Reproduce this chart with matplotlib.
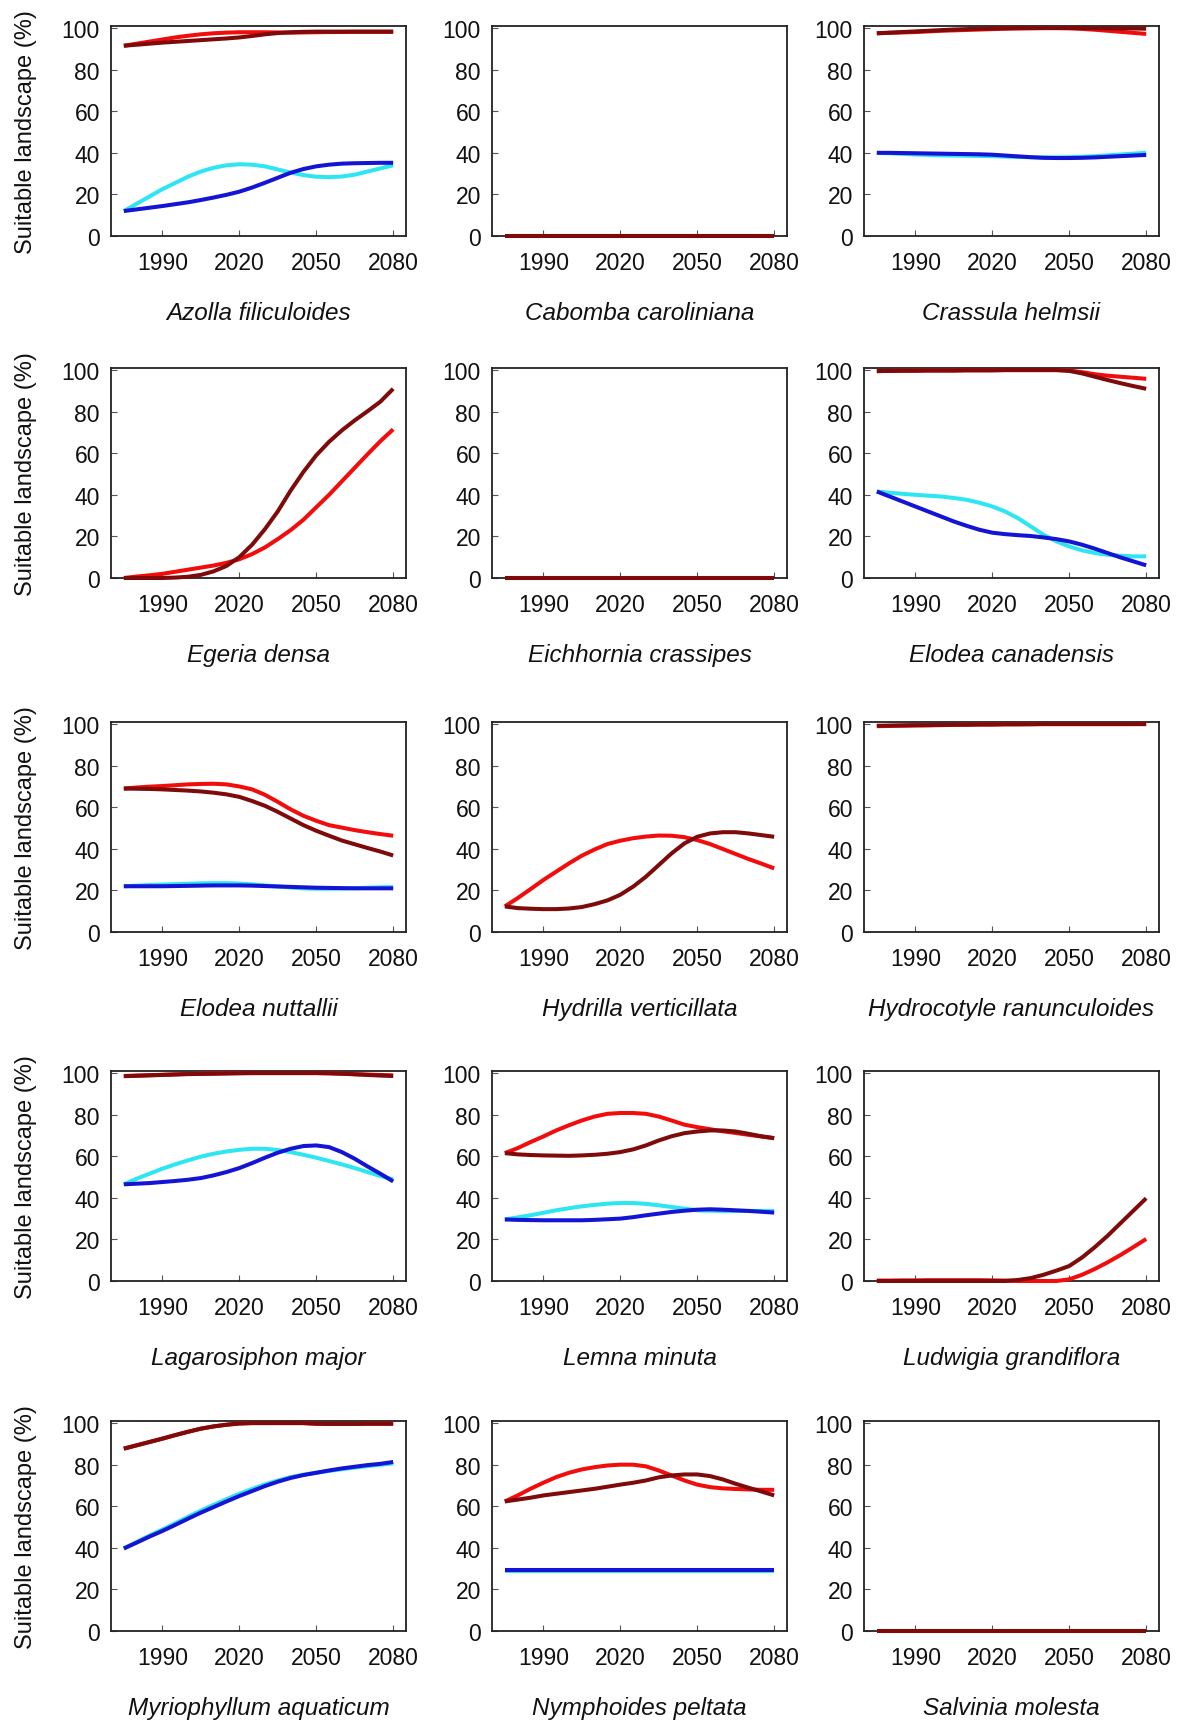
import numpy as np
import matplotlib
matplotlib.use("Agg")
import matplotlib.pyplot as plt

plt.rcParams["font.family"] = ["Liberation Sans", "DejaVu Sans"]

YEARS = [1975, 1980, 1985, 1990, 1995, 2000, 2005, 2010, 2015, 2020, 2025,
         2030, 2035, 2040, 2045, 2050, 2055, 2060, 2065, 2070, 2075, 2080]
XTICKS = [1990, 2020, 2050, 2080]
YTICKS = [0, 20, 40, 60, 80, 100]
ZERO = [0] * 22

# series per species: red, dark red, cyan, blue (None = not drawn)
azolla_red = [91.5, 92.5, 93.5, 94.5, 95.5, 96.3, 97.0, 97.5, 97.8, 98.0, 98.0,
              98.0, 97.9, 97.8, 97.9, 98.0, 98.1, 98.1, 98.2, 98.2, 98.2, 98.2]
azolla_dark = [91.5, 92.0, 92.5, 93.0, 93.4, 93.8, 94.2, 94.6, 95.0, 95.5, 96.2,
               97.0, 97.6, 98.0, 98.2, 98.3, 98.3, 98.3, 98.3, 98.3, 98.3, 98.3]
azolla_cyan = [12, 15.5, 19, 22.5, 25.5, 28.5, 31, 32.8, 34, 34.5, 34.3,
               33.5, 32, 30.5, 29.3, 28.5, 28.3, 28.6, 29.5, 31, 32.5, 34]
azolla_blue = [12, 12.8, 13.6, 14.4, 15.3, 16.2, 17.3, 18.5, 19.8, 21.3, 23.3,
               25.6, 28.0, 30.4, 32.2, 33.5, 34.3, 34.8, 35.0, 35.1, 35.2, 35.2]

crassula_red = [97.5, 97.7, 97.9, 98.1, 98.4, 98.7, 98.9, 99.1, 99.3, 99.5, 99.7,
                99.8, 99.9, 100, 100, 99.9, 99.6, 99.2, 98.7, 98.2, 97.7, 97.2]
crassula_dark = [97.5, 97.8, 98.1, 98.4, 98.7, 99.0, 99.3, 99.5, 99.7, 99.8, 99.9,
                 100, 100, 100, 100, 100, 100, 99.9, 99.9, 99.8, 99.8, 99.7]
crassula_cyan = [40, 39.8, 39.5, 39.2, 39, 38.8, 38.7, 38.6, 38.5, 38.4, 38.2,
                 38, 37.9, 37.8, 37.8, 37.9, 38.1, 38.4, 38.8, 39.2, 39.6, 40]
crassula_blue = [40, 40, 39.9, 39.8, 39.7, 39.6, 39.5, 39.4, 39.3, 39.1, 38.7,
                 38.3, 37.9, 37.6, 37.5, 37.5, 37.6, 37.8, 38.1, 38.4, 38.7, 39]

egeria_red = [0, 0.7, 1.3, 2, 3, 4, 5, 6, 7.3, 9, 11.5,
              14.7, 18.7, 23, 28, 34, 40, 46.5, 53, 59.5, 65.8, 71.5]
egeria_dark = [0, 0, 0, 0, 0.2, 0.6, 1.5, 3.2, 5.8, 10, 16,
               23.5, 32, 42, 51, 59, 65.5, 71, 75.8, 80.2, 84.8, 91]

canad_red = [99.5, 99.6, 99.7, 99.7, 99.8, 99.8, 99.8, 99.9, 99.9, 99.9, 100,
             100, 100, 100, 100, 99.8, 99, 98, 97.3, 96.8, 96.3, 95.8]
canad_dark = [99.5, 99.6, 99.7, 99.7, 99.8, 99.8, 99.8, 99.9, 99.9, 99.9, 100,
              100, 100, 100, 100, 99.6, 98.4, 96.8, 95.2, 93.7, 92.3, 91]
canad_cyan = [41.6, 41, 40.5, 40, 39.6, 39.2, 38.5, 37.6, 36.2, 34.4, 32,
              28.8, 24.8, 20.8, 17.6, 15.2, 13.3, 12, 11.2, 10.7, 10.4, 10.4]
canad_blue = [41.6, 39.2, 36.8, 34.4, 32, 29.6, 27.2, 25.1, 23.2, 21.8, 21.1,
              20.6, 20.2, 19.5, 18.7, 17.6, 16, 14.1, 12, 9.9, 8, 6.1]

nutt_red = [69, 69.5, 69.9, 70.2, 70.6, 71, 71.2, 71.3, 71.0, 70.0, 68.6,
            66, 62.6, 59, 55.9, 53.5, 51.4, 50.2, 49, 48, 47.1, 46.3]
nutt_dark = [69, 68.9, 68.8, 68.6, 68.3, 68, 67.6, 67, 66.2, 65, 63,
             60.7, 57.8, 54.6, 51.4, 48.7, 46.3, 44, 42.2, 40.4, 38.7, 36.8]
nutt_cyan = [22, 22.3, 22.6, 22.8, 23, 23.2, 23.4, 23.5, 23.5, 23.3, 22.9,
             22.4, 21.9, 21.4, 21.0, 20.8, 20.8, 20.9, 21.1, 21.3, 21.5, 21.6]
nutt_blue = [22, 22, 22, 22, 22.1, 22.2, 22.3, 22.4, 22.4, 22.4, 22.3,
             22.1, 21.9, 21.7, 21.5, 21.3, 21.2, 21.1, 21.0, 21.0, 21.0, 21.0]

hydrilla_red = [12.3, 16.3, 20.6, 25, 29, 33, 36.7, 39.7, 42.3, 43.9, 45.1,
                45.9, 46.4, 46.3, 45.6, 44.2, 42.3, 39.9, 37.5, 35.1, 32.9, 30.6]
hydrilla_dark = [12.3, 11.5, 11.2, 11, 11, 11.3, 12, 13.4, 15.2, 17.9, 21.8,
                 26.6, 32.2, 37.8, 42.6, 45.8, 47.4, 48, 48, 47.4, 46.6, 45.8]

hydrocot_red = [99.0, 99.1, 99.2, 99.3, 99.4, 99.5, 99.6, 99.7, 99.8, 99.8, 99.9,
                99.9, 100, 100, 100, 100, 100, 100, 100, 100, 100, 100]
hydrocot_dark = [99.2, 99.3, 99.4, 99.5, 99.5, 99.6, 99.7, 99.7, 99.8, 99.8, 99.9,
                 99.9, 99.9, 100, 100, 100, 100, 100, 100, 100, 100, 100]

lagaro_red = [98.6, 98.8, 99.0, 99.2, 99.4, 99.6, 99.7, 99.8, 99.9, 100, 100,
              100, 100, 100, 100, 100, 99.9, 99.7, 99.5, 99.3, 99.1, 98.9]
lagaro_dark = [98.5, 98.7, 98.9, 99.1, 99.3, 99.5, 99.6, 99.7, 99.8, 99.9, 100,
               100, 100, 100, 100, 100, 99.9, 99.7, 99.4, 99.1, 98.8, 98.6]
lagaro_cyan = [46.5, 49.2, 51.6, 54, 56.1, 58, 59.8, 61.2, 62.3, 63.1, 63.6,
               63.6, 63, 62, 60.7, 59.3, 57.7, 56.1, 54.3, 52.4, 50.5, 48.9]
lagaro_blue = [46.5, 46.8, 47.1, 47.6, 48.1, 48.7, 49.5, 50.8, 52.4, 54.3, 56.7,
               59.3, 61.7, 63.6, 64.9, 65.2, 64.4, 62, 58.8, 55.1, 51.6, 47.9]

lemna_red = [61.5, 63.9, 66.8, 69.5, 72.4, 74.9, 77.2, 79.1, 80.4, 80.8, 80.8,
             80.4, 79.1, 77.2, 75.2, 74, 73, 72, 71.2, 70.3, 69.5, 68.7]
lemna_dark = [61.5, 60.9, 60.6, 60.4, 60.3, 60.2, 60.4, 60.7, 61.2, 62, 63.3,
              65.2, 67.6, 69.6, 71.1, 71.9, 72.4, 72.4, 71.9, 70.8, 69.6, 68.7]
lemna_cyan = [29.6, 30.6, 31.6, 32.8, 34, 35, 35.9, 36.6, 37.2, 37.5, 37.5,
              37.1, 36.4, 35.6, 34.8, 34, 33.8, 33.7, 33.7, 33.7, 33.7, 33.7]
lemna_blue = [29.6, 29.4, 29.3, 29.2, 29.2, 29.2, 29.2, 29.4, 29.7, 30, 30.7,
              31.6, 32.4, 33.2, 33.8, 34.3, 34.5, 34.3, 34.0, 33.7, 33.3, 32.9]

ludw_red = [0.2, 0.2, 0.3, 0.3, 0.4, 0.4, 0.4, 0.4, 0.4, 0.3, 0.2,
            0, 0, 0, 0, 0.8, 3, 5.8, 9, 12.5, 16.3, 20.2]
ludw_dark = [0, 0, 0, 0, 0, 0, 0, 0, 0, 0, 0,
             0.5, 1.4, 3, 5, 7.2, 11.3, 16.3, 21.8, 27.8, 33.8, 39.8]

myrio_red = [87.7, 89.3, 90.9, 92.5, 94.2, 95.8, 97.3, 98.4, 99.2, 99.8, 100,
             100, 100, 100, 100, 99.7, 99.6, 99.6, 99.6, 99.7, 99.7, 99.7]
myrio_dark = [87.7, 89.3, 90.9, 92.5, 94.2, 95.8, 97.3, 98.4, 99.2, 99.8, 100,
              100, 100, 100, 100, 99.7, 99.6, 99.6, 99.6, 99.7, 99.7, 99.7]
myrio_cyan = [39.7, 42.8, 45.9, 48.8, 51.8, 54.9, 57.9, 60.7, 63.4, 66, 68.3,
              70.5, 72.4, 74, 75.2, 76.1, 77, 77.8, 78.6, 79.3, 80, 80.6]
myrio_blue = [39.7, 42.5, 45.4, 48.1, 51, 54, 56.9, 59.6, 62.3, 64.9, 67.3,
              69.7, 71.8, 73.6, 75, 76.1, 77.2, 78.2, 79, 79.8, 80.4, 81.3]

nymph_red = [62.3, 65.2, 68.4, 71.3, 74, 76.1, 77.7, 78.8, 79.6, 80, 80,
             79.2, 77.2, 74.8, 72.4, 70.4, 69.2, 68.6, 68.3, 68.1, 67.9, 67.9]
nymph_dark = [62.3, 63.2, 64.1, 65.2, 66, 66.8, 67.6, 68.4, 69.4, 70.4, 71.3,
              72.4, 73.9, 74.8, 75.3, 75.3, 74.5, 72.9, 70.8, 68.9, 67.1, 65.2]
nymph_cyan = [29.0] * 22
nymph_blue = [29.2] * 22

SPECIES = [
    ("Azolla filiculoides", azolla_red, azolla_dark, azolla_cyan, azolla_blue),
    ("Cabomba caroliniana", ZERO, ZERO, None, None),
    ("Crassula helmsii", crassula_red, crassula_dark, crassula_cyan, crassula_blue),
    ("Egeria densa", egeria_red, egeria_dark, None, None),
    ("Eichhornia crassipes", ZERO, ZERO, None, None),
    ("Elodea canadensis", canad_red, canad_dark, canad_cyan, canad_blue),
    ("Elodea nuttallii", nutt_red, nutt_dark, nutt_cyan, nutt_blue),
    ("Hydrilla verticillata", hydrilla_red, hydrilla_dark, None, None),
    ("Hydrocotyle ranunculoides", hydrocot_red, hydrocot_dark, None, None),
    ("Lagarosiphon major", lagaro_red, lagaro_dark, lagaro_cyan, lagaro_blue),
    ("Lemna minuta", lemna_red, lemna_dark, lemna_cyan, lemna_blue),
    ("Ludwigia grandiflora", ludw_red, ludw_dark, None, None),
    ("Myriophyllum aquaticum", myrio_red, myrio_dark, myrio_cyan, myrio_blue),
    ("Nymphoides peltata", nymph_red, nymph_dark, nymph_cyan, nymph_blue),
    ("Salvinia molesta", ZERO, ZERO, None, None),
]

COL = {"red": "#f20c0c", "dark": "#7e0a0a", "cyan": "#2ee6f2", "blue": "#1414d4"}

W_PX, H_PX = 1182, 1724
COL_LEFT = [111, 492, 864]
ROW_TOP = [27, 369, 723, 1072, 1422]
AX_W, AX_H = 295, 210

fig = plt.figure(figsize=(W_PX / 100, H_PX / 100), dpi=100)
for k, (name, red, dark, cyan, blue) in enumerate(SPECIES):
    r, c = divmod(k, 3)
    ax = fig.add_axes([COL_LEFT[c] / W_PX, 1 - (ROW_TOP[r] + AX_H) / H_PX,
                       AX_W / W_PX, AX_H / H_PX])
    for vals, key in ((cyan, "cyan"), (blue, "blue"), (red, "red"), (dark, "dark")):
        if vals is not None:
            ax.plot(YEARS, vals, color=COL[key], lw=2.9, solid_capstyle="butt",
                    clip_on=False, zorder=3)
    ax.set_xlim(1970, 2085)
    ax.set_ylim(0, 101)
    ax.set_xticks(XTICKS)
    ax.set_yticks(YTICKS)
    ax.tick_params(direction="in", length=4, width=0.8, color="#555555",
                   labelsize=16.5, colors="#111111")
    ax.tick_params(axis="x", pad=11)
    ax.tick_params(axis="y", pad=8)
    for s in ax.spines.values():
        s.set_linewidth(1.3)
        s.set_color("#222222")
        s.set_zorder(2)
    if c == 0:
        ax.set_ylabel("Suitable landscape (%)", fontsize=17, labelpad=18, color="#111111")
    ax.text(0.5, -0.365, name, transform=ax.transAxes, ha="center", va="center",
            fontsize=17.5, style="italic", color="#111111")

fig.savefig("out.png", dpi=100, facecolor="white")
